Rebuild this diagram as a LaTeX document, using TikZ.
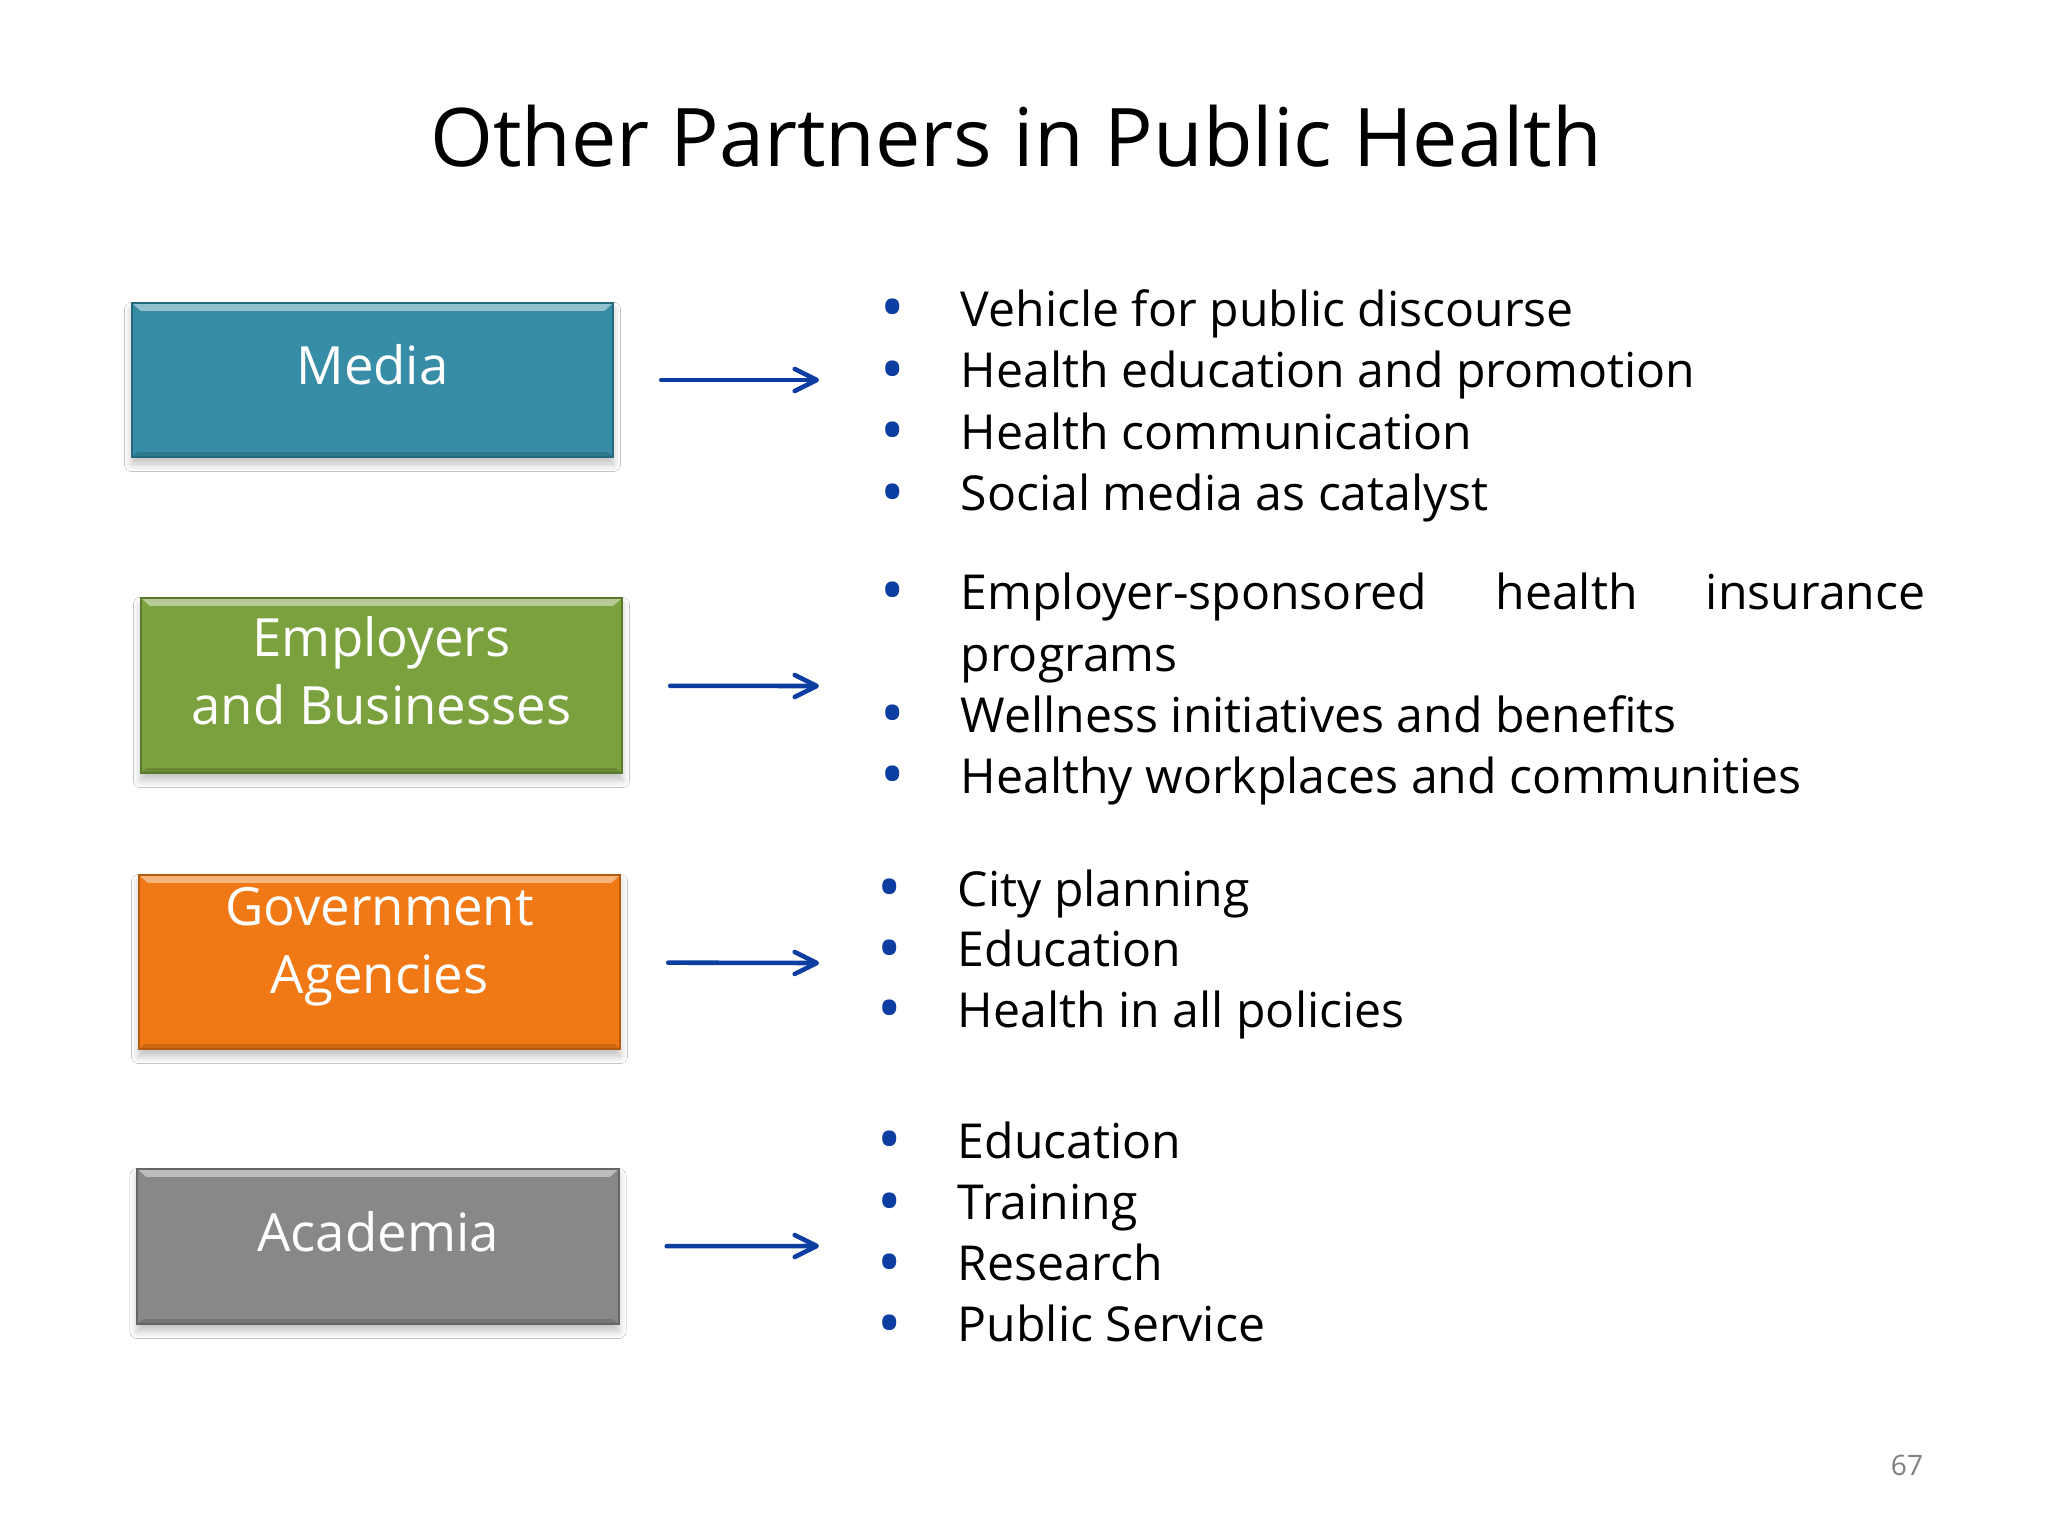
\documentclass[tikz,border=0pt]{standalone}
\usepackage{fontspec}
\setmainfont{Open Sans}
\usetikzlibrary{
  arrows.meta,
  shadows.blur
}
\definecolor{media blue}{RGB}{55,140,166}
\definecolor{employer green}{RGB}{122,161,62}
\definecolor{agency orange}{RGB}{241,121,21}
\definecolor{academia gray}{RGB}{136,136,136}
\definecolor{arrow blue}{RGB}{12,62,162}
\definecolor{page gray}{RGB}{128,128,128}
\newcommand\itemdot{\makebox[0.8cm][l]{\raisebox{-0.1em}{%
  \scalebox{1.35}{\textcolor{arrow blue}{\textbullet}}}}}
\tikzset{
%
  % For the slide title.
  title/.style={
    font=\fontsize{23}{28}\selectfont},
%
  % For the coloured partner boxes.
  box/.style={
    draw=#1!75!black,
    line width=0.6pt,
    fill=#1,
    minimum width=4.81cm,
    inner sep=0pt,
    blur shadow={shadow xshift=0pt,
                 shadow yshift=-0.07cm,
                 shadow blur steps=6,
                 shadow opacity=25},
    path picture={
      \fill[#1!55!white]
        (path picture bounding box.north west)
        -- (path picture bounding box.north east)
        -- ([shift={(-0.09cm,-0.08cm)}]path picture bounding box.north east)
        -- ([shift={(0.09cm,-0.08cm)}]path picture bounding box.north west)
        -- cycle;
      \fill[#1!85!black]
        (path picture bounding box.south west)
        -- (path picture bounding box.south east)
        -- ([shift={(-0.06cm,0.05cm)}]path picture bounding box.south east)
        -- ([shift={(0.06cm,0.05cm)}]path picture bounding box.south west)
        -- cycle;}},
%
  % For the text in the boxes.
  box text/.style={
    text=white,
    align=center,
    yshift=0.15cm,
    font=\fontsize{15}{19.4}\selectfont},
%
  % For one line of a list.
  item/.style={
    anchor=base west,
    inner sep=0pt,
    font=\fontsize{13.7}{16}\selectfont},
%
  % For the arrows from a box to its list.
  arrow/.style={
    arrow blue,
    line width=1.3pt,
    line cap=round,
    shorten <=0.47cm,
    -{Straight Barb[length=0.22cm,
                    width=0.22cm,
                    round]}},
%
  % For the page number.
  page/.style={
    text=page gray,
    font=\fontsize{8}{10}\selectfont}
}
\begin{document}
\begin{tikzpicture}[x=0.01cm, y=-0.01cm]
  \fill[white] (0,0) rectangle (2048,1536);
  \useasboundingbox (0,0) rectangle (2048,1536);

  \node[title, anchor=base] (T) at (1016,166)
    {Other Partners in Public Health};

  \node[box=media blue, minimum height=1.54cm,
        label={[box text]center:Media}] (M) at (372.5,380) {};
  \node[box=employer green, minimum height=1.75cm,
        label={[box text]center:Employers\\and Businesses}] (E) at (381.5,685.5) {};
  \node[box=agency orange, minimum height=1.74cm,
        label={[box text]center:Government\\Agencies}] (G) at (379.5,962) {};
  \node[box=academia gray, minimum height=1.55cm,
        label={[box text]center:Academia}] (A) at (378,1246.5) {};

  % Media list.
  \foreach \txt [count=\i from 0] in {Vehicle for public discourse,
      Health education and promotion, Health communication,
      Social media as catalyst}
    \node[item] (M-\i) at (880,326+61.5*\i) {\itemdot\txt};

  % Employers list.
  \node[item] (E-0) at (880,609)
    {\itemdot\makebox[9.64cm][s]{Employer-sponsored health insurance}};
  \node[item] (E-1) at (960,671) {programs};
  \node[item] (E-2) at (880,732) {\itemdot Wellness initiatives and benefits};
  \node[item] (E-3) at (880,793) {\itemdot Healthy workplaces and communities};

  % Government list.
  \foreach \txt [count=\i from 0] in {City planning, Education,
      Health in all policies}
    \node[item] (G-\i) at (877,906+60.5*\i) {\itemdot\txt};

  % Academia list.
  \foreach \txt [count=\i from 0] in {Education, Training, Research,
      Public Service}
    \node[item] (A-\i) at (877,1158+61.3*\i) {\itemdot\txt};

  \coordinate (M end) at (819,380);
  \coordinate (E end) at (819,686);
  \coordinate (G end) at (819,963);
  \coordinate (A end) at (819,1246);
  \draw[arrow] (M) -- (M end);
  \draw[arrow] (E) -- (E end);
  \draw[arrow] (G) -- (G end);
  \draw[arrow] (A) -- (A end);

  \node[page] (P) at (1907,1465) {67};
\end{tikzpicture}
\end{document}
